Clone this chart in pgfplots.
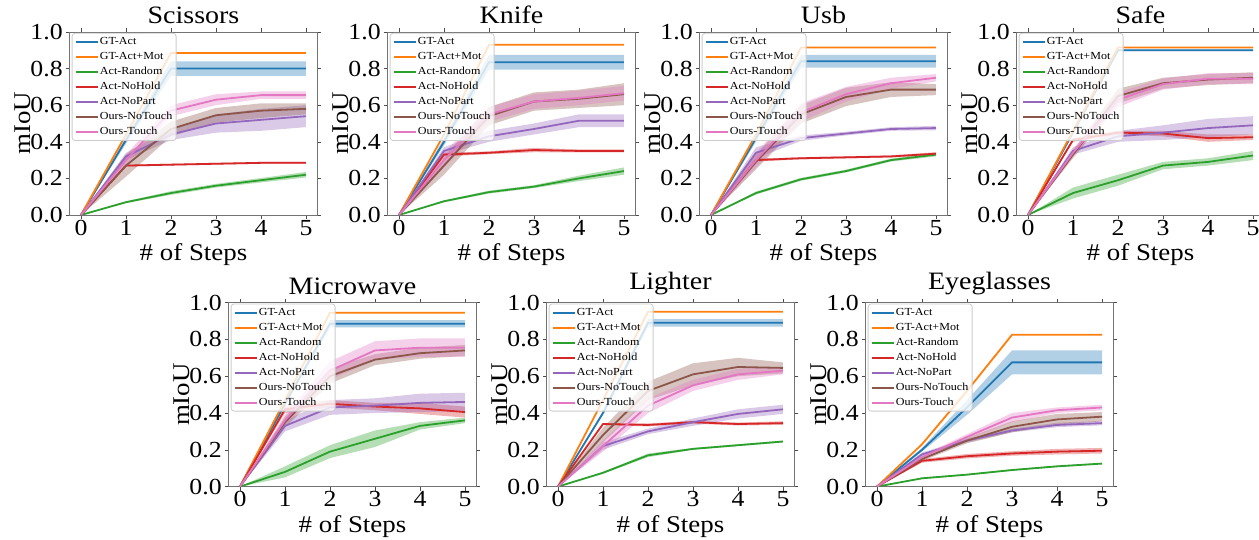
\documentclass[border=0pt]{standalone}
\usepackage{fontspec}
\setmainfont[FakeStretch=1.12]{Liberation Serif}
\usepackage{pgfplots}
\usepackage{pgfplotstable}
\pgfplotsset{compat=1.18}
\usepgfplotslibrary{fillbetween}

\definecolor{tblue}{HTML}{1F77B4}
\definecolor{torange}{HTML}{FF7F0E}
\definecolor{tgreen}{HTML}{2CA02C}
\definecolor{tred}{HTML}{D62728}
\definecolor{tpurple}{HTML}{9467BD}
\definecolor{tbrown}{HTML}{8C564B}
\definecolor{tpink}{HTML}{E377C2}

% columns: mean and half-width of the shaded band
% gt=GT-Act gm=GT-Act+Mot rd=Act-Random nh=Act-NoHold np=Act-NoPart nt=Ours-NoTouch to=Ours-Touch
\pgfplotstableread{
x gt gte gm gme rd rde nh nhe np npe nt nte to toe
0 0 0 0 0 0 0 0 0 0 0 0 0 0 0
1 0.41 0.02 0.44 0 0.07 0.005 0.27 0.005 0.32 0.02 0.27 0.06 0.30 0.03
2 0.80 0.04 0.885 0 0.12 0.01 0.275 0.005 0.44 0.03 0.47 0.04 0.57 0.03
3 0.80 0.04 0.885 0 0.16 0.01 0.28 0.005 0.50 0.05 0.545 0.04 0.63 0.03
4 0.80 0.04 0.885 0 0.19 0.012 0.285 0.005 0.52 0.06 0.57 0.04 0.655 0.02
5 0.80 0.04 0.885 0 0.22 0.015 0.285 0.005 0.54 0.06 0.58 0.03 0.655 0.02
}\scissors
\pgfplotstableread{
x gt gte gm gme rd rde nh nhe np npe nt nte to toe
0 0 0 0 0 0 0 0 0 0 0 0 0 0 0
1 0.40 0.02 0.44 0 0.075 0.005 0.33 0.01 0.35 0.02 0.27 0.05 0.30 0.04
2 0.835 0.04 0.93 0 0.125 0.008 0.34 0.008 0.43 0.03 0.54 0.05 0.55 0.04
3 0.835 0.04 0.93 0 0.155 0.008 0.355 0.012 0.47 0.03 0.62 0.05 0.62 0.04
4 0.835 0.04 0.93 0 0.20 0.015 0.35 0.008 0.515 0.035 0.635 0.05 0.64 0.04
5 0.835 0.04 0.93 0 0.24 0.02 0.35 0.008 0.515 0.035 0.66 0.06 0.665 0.04
}\knife
\pgfplotstableread{
x gt gte gm gme rd rde nh nhe np npe nt nte to toe
0 0 0 0 0 0 0 0 0 0 0 0 0 0 0
1 0.42 0.02 0.44 0 0.12 0.008 0.30 0.008 0.34 0.03 0.29 0.04 0.30 0.04
2 0.84 0.035 0.915 0 0.195 0.008 0.31 0.006 0.42 0.015 0.55 0.05 0.56 0.05
3 0.84 0.035 0.915 0 0.24 0.008 0.315 0.006 0.445 0.01 0.645 0.05 0.66 0.04
4 0.84 0.035 0.915 0 0.30 0.008 0.32 0.006 0.47 0.01 0.685 0.04 0.72 0.03
5 0.84 0.035 0.915 0 0.33 0.01 0.335 0.008 0.475 0.012 0.685 0.03 0.75 0.02
}\usb
\pgfplotstableread{
x gt gte gm gme rd rde nh nhe np npe nt nte to toe
0 0 0 0 0 0 0 0 0 0 0 0 0 0 0
1 0.45 0.005 0.46 0 0.12 0.03 0.41 0.01 0.35 0.02 0.33 0.02 0.34 0.02
2 0.90 0.005 0.915 0 0.19 0.03 0.45 0.01 0.43 0.03 0.65 0.04 0.63 0.04
3 0.90 0.005 0.915 0 0.27 0.02 0.445 0.015 0.45 0.04 0.72 0.03 0.715 0.03
4 0.90 0.005 0.915 0 0.29 0.02 0.42 0.02 0.475 0.05 0.74 0.03 0.745 0.03
5 0.90 0.005 0.915 0 0.325 0.025 0.425 0.015 0.49 0.05 0.75 0.03 0.745 0.03
}\safe
\pgfplotstableread{
x gt gte gm gme rd rde nh nhe np npe nt nte to toe
0 0 0 0 0 0 0 0 0 0 0 0 0 0 0
1 0.45 0.01 0.47 0 0.08 0.03 0.42 0.02 0.33 0.03 0.35 0.03 0.36 0.03
2 0.885 0.02 0.945 0 0.19 0.035 0.45 0.02 0.43 0.04 0.60 0.04 0.63 0.05
3 0.885 0.02 0.945 0 0.26 0.045 0.435 0.02 0.44 0.04 0.69 0.03 0.74 0.05
4 0.885 0.02 0.945 0 0.33 0.02 0.425 0.03 0.455 0.05 0.725 0.03 0.755 0.05
5 0.885 0.02 0.945 0 0.36 0.015 0.405 0.03 0.46 0.05 0.74 0.03 0.755 0.05
}\microwave
\pgfplotstableread{
x gt gte gm gme rd rde nh nhe np npe nt nte to toe
0 0 0 0 0 0 0 0 0 0 0 0 0 0 0
1 0.40 0.01 0.47 0 0.075 0.005 0.34 0.005 0.22 0.02 0.28 0.04 0.22 0.03
2 0.89 0.02 0.95 0 0.17 0.01 0.335 0.008 0.30 0.015 0.52 0.05 0.44 0.04
3 0.89 0.02 0.95 0 0.205 0.005 0.35 0.008 0.35 0.02 0.61 0.06 0.55 0.03
4 0.89 0.02 0.95 0 0.225 0.005 0.34 0.008 0.395 0.025 0.65 0.05 0.61 0.03
5 0.89 0.02 0.95 0 0.245 0.005 0.345 0.01 0.42 0.025 0.645 0.03 0.63 0.02
}\lighter
\pgfplotstableread{
x gt gte gm gme rd rde nh nhe np npe nt nte to toe
0 0 0 0 0 0 0 0 0 0 0 0 0 0 0
1 0.20 0.01 0.23 0 0.045 0.004 0.14 0.01 0.175 0.01 0.15 0.01 0.16 0.01
2 0.43 0.04 0.52 0 0.065 0.004 0.165 0.012 0.25 0.01 0.25 0.015 0.27 0.015
3 0.675 0.065 0.825 0 0.09 0.004 0.18 0.012 0.305 0.01 0.325 0.03 0.375 0.025
4 0.675 0.065 0.825 0 0.11 0.004 0.19 0.015 0.335 0.012 0.365 0.03 0.415 0.015
5 0.675 0.065 0.825 0 0.125 0.004 0.195 0.015 0.345 0.012 0.38 0.025 0.43 0.015
}\eyeglasses

% one series: shaded band + mean line
\newcommand{\band}[3]{%
  \addplot[draw=none, name path=u#2, forget plot] table[x=x, y expr=\thisrow{#2}+\thisrow{#2e}] {#1};
  \addplot[draw=none, name path=l#2, forget plot] table[x=x, y expr=\thisrow{#2}-\thisrow{#2e}] {#1};
  \addplot[fill=#3, fill opacity=0.35, draw=none, forget plot] fill between[of=u#2 and l#2];
  \addplot[#3, line width=0.9pt] table[x=x, y=#2] {#1};
}
\newcommand{\allseries}[1]{%
  \band{#1}{gt}{tblue}
  \band{#1}{gm}{torange}
  \band{#1}{rd}{tgreen}
  \band{#1}{nh}{tred}
  \band{#1}{np}{tpurple}
  \band{#1}{nt}{tbrown}
  \band{#1}{to}{tpink}
  \legend{GT-Act, GT-Act+Mot, Act-Random, Act-NoHold, Act-NoPart, Ours-NoTouch, Ours-Touch}
}

\pgfplotsset{panel/.style={
  scale only axis, width=123.75pt, height=91.5pt,
  anchor=south west,
  xmin=-0.25, xmax=5.25, ymin=0, ymax=1,
  xtick={0,1,2,3,4,5}, ytick={0,0.2,0.4,0.6,0.8,1},
  /pgf/number format/assume math mode=true,
  tick label style={font=\fontsize{11.5}{13}\selectfont},
  xticklabel style={yshift=3pt},
  yticklabel style={xshift=2pt, /pgf/number format/.cd, fixed, fixed zerofill, precision=1},
  tick align=outside, major tick length=2pt,
  tick style={black!70}, axis line style={black!55},
  xlabel={\# of Steps}, ylabel={mIoU},
  label style={font=\fontsize{12}{14}\selectfont},
  xlabel style={at={(axis description cs:0.5,-0.215)}, anchor=center},
  ylabel style={at={(axis description cs:-0.19,0.5)}, anchor=center},
  title style={font=\fontsize{12.5}{14}\selectfont, yshift=-5.5pt},
  legend cell align=left,
  legend image code/.code={\draw[##1, line width=1pt] (0pt,0pt) -- (11pt,0pt);},
  legend style={at={(0.008,0.995)}, anchor=north west,
    draw=black!20, rounded corners=1.5pt,
    fill=white, fill opacity=0.8, draw opacity=1, text opacity=1,
    font=\fontsize{5.4}{6}\selectfont, inner sep=1.2pt, row sep=1.3pt,
    nodes={inner sep=0.7pt, text height=3.8pt, text depth=1pt, anchor=west}},
}}

\begin{document}
\begin{tikzpicture}
\begin{axis}[panel, at={(34.875pt,162.5pt)}, title={Scissors}]
\allseries{\scissors}
\end{axis}
\begin{axis}[panel, at={(193.875pt,162.5pt)}, title={Knife}]
\allseries{\knife}
\end{axis}
\begin{axis}[panel, at={(349.875pt,162.5pt)}, title={Usb}]
\allseries{\usb}
\end{axis}
\begin{axis}[panel, at={(508.375pt,162.5pt)}, title={Safe}]
\allseries{\safe}
\end{axis}

\begin{axis}[panel, at={(114.375pt,26.7pt)}, height=92pt, title={Microwave}]
\allseries{\microwave}
\end{axis}
\begin{axis}[panel, at={(273.375pt,26.7pt)}, height=92pt, title={Lighter}]
\allseries{\lighter}
\end{axis}
\begin{axis}[panel, at={(432.875pt,26.7pt)}, height=92pt, title={Eyeglasses}]
\allseries{\eyeglasses}
\end{axis}

\pgfresetboundingbox
\path[use as bounding box] (0,0) rectangle (629.5pt,270pt);
\end{tikzpicture}
\end{document}
